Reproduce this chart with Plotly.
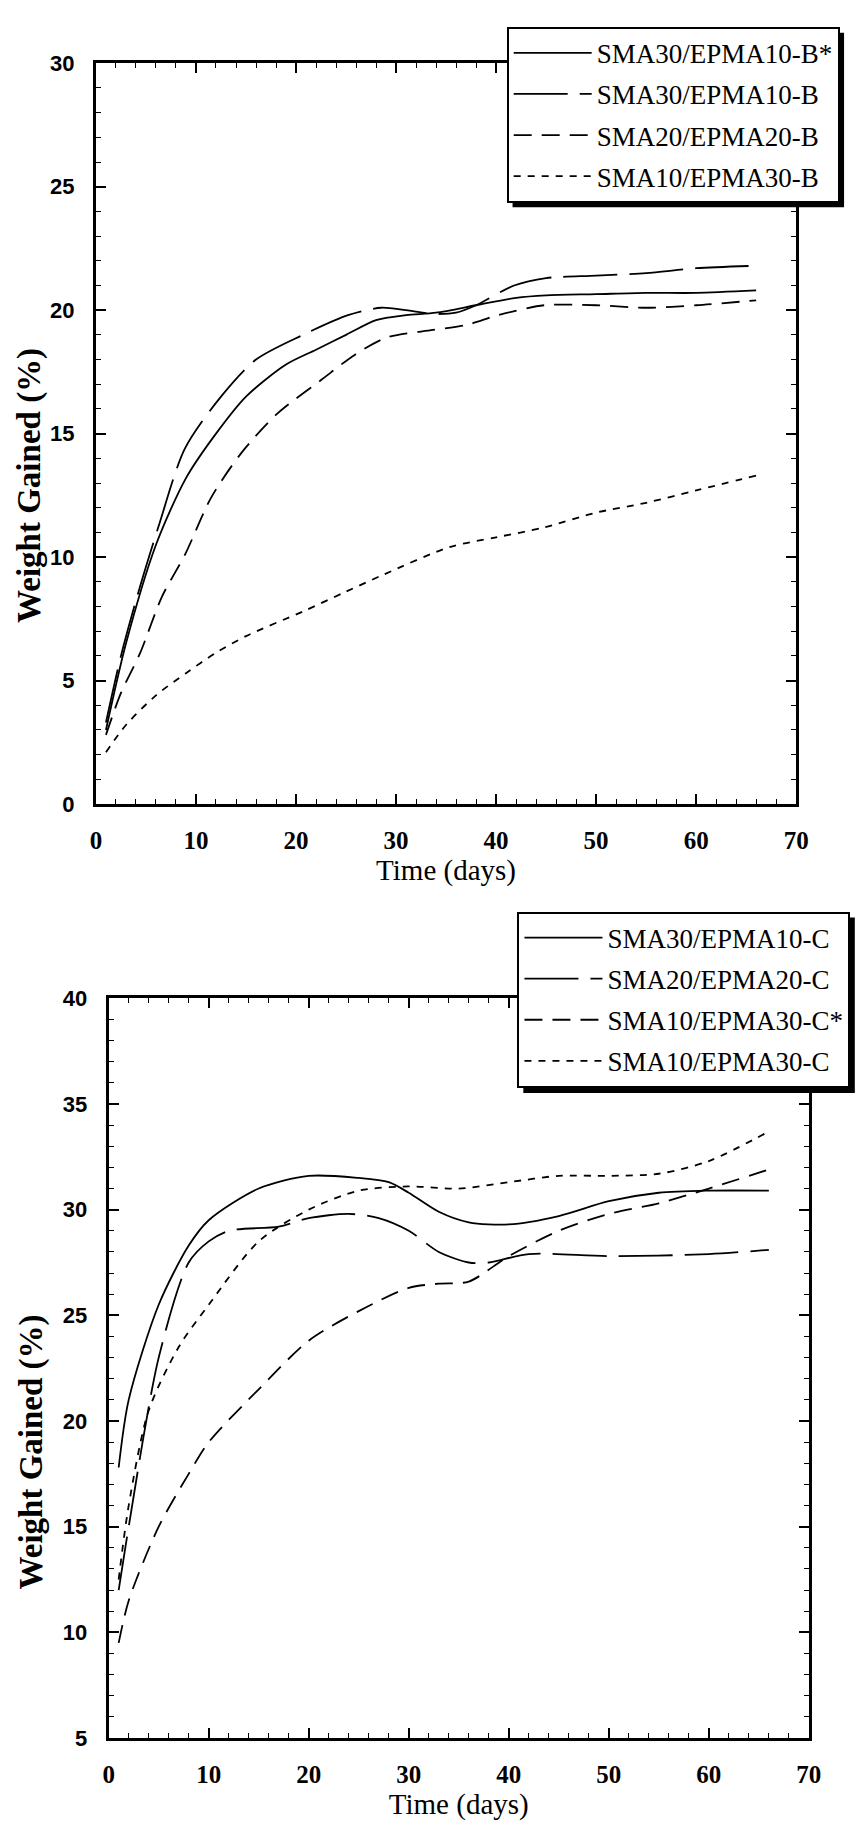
import plotly.graph_objects as go

W, H = 860, 1827

# ---------------- Top chart data (B series) ----------------
x_b1 = [1, 3, 6, 9, 12, 15, 19, 22, 25, 28, 31, 34, 38, 42, 45, 50, 55, 60, 66]
y_b1 = [3.0, 6.5, 10.5, 13.2, 15.0, 16.5, 17.8, 18.4, 19.0, 19.6, 19.8, 19.9, 20.2, 20.5, 20.6, 20.65, 20.7, 20.7, 20.8]

x_b2 = [1, 2.5, 4.4, 6.3, 8.9, 12.5, 16, 20.7, 25.2, 28.5, 31, 33.7, 36, 38, 41.8, 45, 50, 55, 60, 66]
y_b2 = [3.3, 6.0, 8.8, 11.3, 14.4, 16.5, 18.0, 19.0, 19.8, 20.1, 20.0, 19.85, 19.9, 20.2, 21.0, 21.3, 21.4, 21.5, 21.7, 21.8]

x_b3 = [1, 2.5, 4.4, 6.6, 8.9, 11.5, 14.5, 18.1, 22.6, 25.9, 29.1, 33.7, 37, 40.2, 44.8, 50, 55, 60, 66]
y_b3 = [2.8, 4.5, 6.1, 8.4, 10.1, 12.4, 14.2, 15.8, 17.2, 18.2, 18.9, 19.2, 19.4, 19.8, 20.2, 20.2, 20.1, 20.2, 20.4]

x_b4 = [1, 3, 6, 9, 11.9, 15, 20.7, 25, 28.8, 35.3, 40, 44.8, 50, 55, 60, 66]
y_b4 = [2.1, 3.2, 4.4, 5.3, 6.1, 6.8, 7.8, 8.6, 9.3, 10.4, 10.8, 11.2, 11.8, 12.2, 12.7, 13.3]

names_b = ["SMA30/EPMA10-B*", "SMA30/EPMA10-B", "SMA20/EPMA20-B", "SMA10/EPMA30-B"]

# ---------------- Bottom chart data (C series) ----------------
x_c1 = [1, 2, 5, 8, 10, 15, 20, 25, 28, 30, 33, 36, 40, 45, 50, 55, 60, 66]
y_c1 = [17.8, 21.0, 25.5, 28.3, 29.5, 31.0, 31.6, 31.5, 31.3, 30.8, 29.9, 29.4, 29.3, 29.7, 30.4, 30.8, 30.9, 30.9]

x_c2 = [1, 2, 5, 8, 10, 12, 17, 20, 24, 27, 30, 33, 36, 38, 42, 50, 60, 66]
y_c2 = [12.0, 15.0, 23.0, 27.5, 28.5, 29.0, 29.2, 29.6, 29.8, 29.6, 29.0, 28.0, 27.5, 27.5, 27.9, 27.8, 27.9, 28.1]

x_c3 = [1, 2, 5, 8, 10, 15, 20, 25, 30, 33, 36, 40, 45, 50, 55, 60, 66]
y_c3 = [9.5, 11.5, 15.0, 17.5, 19.0, 21.5, 23.8, 25.2, 26.3, 26.5, 26.6, 27.8, 29.0, 29.8, 30.3, 31.0, 31.9]

x_c4 = [1, 2, 4, 7, 10, 15, 20, 25, 30, 35, 40, 45, 50, 55, 60, 66]
y_c4 = [12.5, 16.0, 20.5, 23.5, 25.5, 28.5, 30.0, 30.9, 31.1, 31.0, 31.3, 31.6, 31.6, 31.7, 32.3, 33.7]

names_c = ["SMA30/EPMA10-C", "SMA20/EPMA20-C", "SMA10/EPMA30-C*", "SMA10/EPMA30-C"]

x_ticks = [0, 10, 20, 30, 40, 50, 60, 70]
y_ticks_b = [0, 5, 10, 15, 20, 25, 30]
y_ticks_c = [5, 10, 15, 20, 25, 30, 35, 40]

dashes = ["solid", "54px,12px", "18px,10px", "7px,7px"]

fig = go.Figure()

top_series = [(x_b1, y_b1), (x_b2, y_b2), (x_b3, y_b3), (x_b4, y_b4)]
for i, ((xs, ys), nm) in enumerate(zip(top_series, names_b)):
    fig.add_trace(go.Scatter(x=xs, y=ys, name=nm, mode="lines",
                             line=dict(color="black", width=1.8, dash=dashes[i], shape="spline", smoothing=0.8),
                             xaxis="x", yaxis="y", legend="legend", legendgroup="b%d" % i))

bot_series = [(x_c1, y_c1), (x_c2, y_c2), (x_c3, y_c3), (x_c4, y_c4)]
for i, ((xs, ys), nm) in enumerate(zip(bot_series, names_c)):
    fig.add_trace(go.Scatter(x=xs, y=ys, name=nm, mode="lines",
                             line=dict(color="black", width=1.8, dash=dashes[i], shape="spline", smoothing=0.8),
                             xaxis="x2", yaxis="y2", legend="legend2", legendgroup="c%d" % i))

def px_x(p):
    return p / W

def px_y(p):
    return 1 - p / H

tickfont_x = dict(family="Liberation Serif", size=25, color="black", weight="bold")
tickfont_y = dict(family="Liberation Sans", size=22, color="black", weight="bold")
xtitle_font = dict(family="Liberation Serif", size=29, color="black")
ytitle_font = dict(family="Liberation Serif", size=33, color="black", weight="bold")

common_x = dict(range=[0, 70], tickvals=x_ticks, ticks="inside", ticklen=10, tickwidth=1.5,
                tickcolor="black", showline=True, linecolor="black", linewidth=3, mirror="allticks",
                showgrid=False, zeroline=False, tickfont=tickfont_x, ticklabelstandoff=12,
                minor=dict(dtick=2, tick0=0, ticks="inside", ticklen=5, tickwidth=1.2, tickcolor="black", showgrid=False),
                title=dict(text="Time (days)", font=xtitle_font, standoff=2))
common_y = dict(ticks="inside", ticklen=10, tickwidth=1.5, tickcolor="black", showline=True,
                linecolor="black", linewidth=3, mirror="allticks", showgrid=False, zeroline=False,
                tickfont=tickfont_y, ticklabelstandoff=14,
                minor=dict(dtick=1, ticks="inside", ticklen=5, tickwidth=1.2, tickcolor="black", showgrid=False))

legend_common = dict(bgcolor="white", bordercolor="black", borderwidth=2,
                     font=dict(family="Liberation Serif", size=27, color="black"),
                     xanchor="left", yanchor="top", tracegroupgap=3, itemwidth=78,
                     traceorder="grouped")

fig.update_layout(
    width=W, height=H,
    margin=dict(l=0, r=0, t=0, b=0),
    paper_bgcolor="white", plot_bgcolor="white",
    xaxis=dict(domain=[px_x(92), px_x(808)], anchor="y", **common_x),
    yaxis=dict(domain=[px_y(803), px_y(52)], anchor="x", range=[0, 30], tickvals=y_ticks_b, **common_y),
    xaxis2=dict(domain=[px_x(105), px_x(821)], anchor="y2", **common_x),
    yaxis2=dict(domain=[px_y(1750), px_y(1000)], anchor="x2", range=[5, 40], tickvals=y_ticks_c, **common_y),
    legend=dict(x=px_x(512), y=px_y(15), **legend_common),
    legend2=dict(x=px_x(523), y=px_y(912), **legend_common),
    showlegend=True,
    annotations=[
        dict(text="Weight Gained (%)", xref="paper", yref="paper", x=px_x(24), y=px_y(480),
             textangle=-90, showarrow=False, font=ytitle_font, xanchor="center", yanchor="middle"),
        dict(text="Weight Gained (%)", xref="paper", yref="paper", x=px_x(26), y=px_y(1460),
             textangle=-90, showarrow=False, font=ytitle_font, xanchor="center", yanchor="middle"),
    ],
    shapes=[
        dict(type="rect", xref="paper", yref="paper", x0=px_x(518), x1=px_x(857), y0=px_y(198), y1=px_y(21),
             fillcolor="black", line=dict(width=0), layer="above"),
        dict(type="rect", xref="paper", yref="paper", x0=px_x(529), x1=px_x(868), y0=px_y(1096), y1=px_y(918),
             fillcolor="black", line=dict(width=0), layer="above"),
    ],
)

fig.write_html("out.html")
